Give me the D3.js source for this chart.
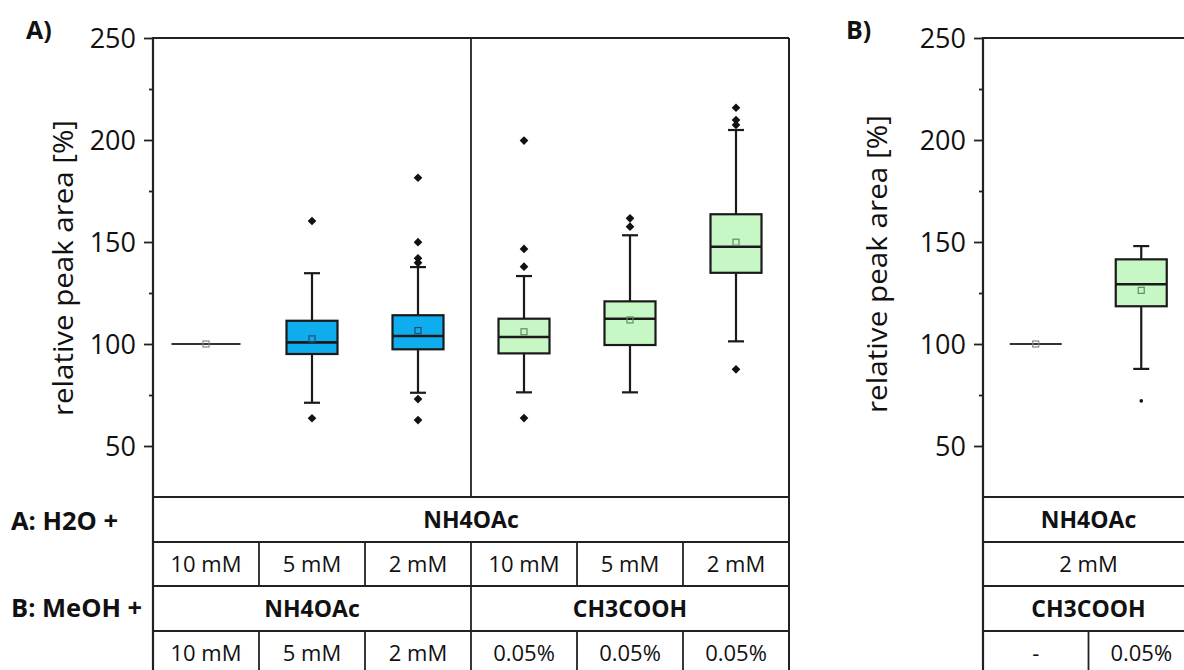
<!DOCTYPE html>
<html><head><meta charset="utf-8">
<script src="https://cdn.jsdelivr.net/npm/d3@7"></script>
<style>
html,body{margin:0;padding:0;background:#fff;}
svg{display:block;font-family:"Open Sans",sans-serif;}
</style></head>
<body><svg id="c" width="1184" height="670"></svg>
<script>
// ---------- data ----------
const catsA = ["A1","A2","A3","A4","A5","A6"];
const q1A   = [100, 95.1, 97.4, 95.4, 99.5, 134.9];
const medA  = [100, 100.8, 103.9, 103.4, 112.4, 147.7];
const q3A   = [100, 111.4, 114.1, 112.4, 120.9, 163.6];
const wloA  = [100, 71.2, 76.1, 76.3, 76.3, 101.3];
const whiA  = [100, 134.7, 137.7, 133.3, 153.3, 204.9];
const meanA = [100, 102.5, 106.6, 106.0, 111.8, 149.9];
const outA  = [[], [160.3, 63.6], [181.5, 149.9, 142.0, 139.8, 73.0, 62.7],
               [199.7, 146.6, 137.9, 63.7], [161.6, 157.5], [215.8, 209.8, 207.4, 87.6]];
const fillA = ["none","blue","blue","green","green","green"];

const catsB = ["B1","B2"];
const q1B   = [100, 118.5];
const medB  = [100, 129.3];
const q3B   = [100, 141.5];
const wloB  = [100, 87.8];
const whiB  = [100, 148.0];
const meanB = [100, 126.3];
const outB  = [[], [72.1]];
const fillB = ["none","green"];

const yMajor = [50,100,150,200,250];
const yMinor = [75,125,175,225];

// table rows (label, span in columns)
const tA_row1 = [["NH4OAc",6]];
const tA_row2 = [["10 mM",1],["5 mM",1],["2 mM",1],["10 mM",1],["5 mM",1],["2 mM",1]];
const tA_row3 = [["NH4OAc",3],["CH3COOH",3]];
const tA_row4 = [["10 mM",1],["5 mM",1],["2 mM",1],["0.05%",1],["0.05%",1],["0.05%",1]];
const tB_row1 = [["NH4OAc",2]];
const tB_row2 = [["2 mM",2]];
const tB_row3 = [["CH3COOH",2]];
const tB_row4 = [["-",1],["0.05%",1]];
const rowLabels = ["A: H2O +", "B: MeOH +"];

// ---------- drawing ----------
const svg = d3.select("#c");
const colors = {blue:"#0fadee", green:"#c6f7c4"};
const meanStroke = {blue:"#1d4e6e", green:"#5d8f5d", none:"#888"};
const yTop = 38, yBot = 497;
const rowsY = [497, 542, 586, 631, 676];
const y = d3.scaleLinear().domain([25,250]).range([yBot, yTop]);

function panel(o){
  const g = svg.append("g");
  const x = d3.scaleBand().domain(o.cats).range([o.x0, o.x1]).padding(0);
  const bw = x.bandwidth();
  g.append("line").attr("x1",o.x0).attr("x2",o.frameRight).attr("y1",yTop).attr("y2",yTop)
    .attr("stroke","#222").attr("stroke-width",1.8);
  if(o.rightFrame){
    g.append("line").attr("x1",o.x1).attr("x2",o.x1).attr("y1",yTop).attr("y2",rowsY[4])
      .attr("stroke","#222").attr("stroke-width",2);
  }
  if(o.divider){
    const xd = x(o.cats[o.divider]);
    g.append("line").attr("x1",xd).attr("x2",xd).attr("y1",yTop).attr("y2",yBot)
      .attr("stroke","#222").attr("stroke-width",1.8);
  }
  const ax = g.append("g").attr("transform",`translate(${o.x0},0)`)
    .call(d3.axisLeft(y).tickValues(yMajor).tickSize(9).tickPadding(8).tickFormat(d3.format("d")));
  ax.select(".domain").remove();
  ax.selectAll(".tick line").attr("stroke","#222").attr("stroke-width",1.8);
  ax.selectAll(".tick text").attr("font-size",27).attr("fill","#111")
    .attr("font-family","'Open Sans',sans-serif").attr("dy","0.36em");
  const axm = g.append("g").attr("transform",`translate(${o.x0},0)`)
    .call(d3.axisLeft(y).tickValues(yMinor).tickSize(4).tickFormat(""));
  axm.select(".domain").remove();
  axm.selectAll(".tick line").attr("stroke","#222").attr("stroke-width",1.8);
  g.append("line").attr("x1",o.x0).attr("x2",o.x0).attr("y1",yTop-1).attr("y2",rowsY[4])
    .attr("stroke","#222").attr("stroke-width",2.2);
  g.append("text").attr("transform",`translate(${o.titleX},${o.titleY}) rotate(-90)`)
    .attr("text-anchor","middle").attr("font-size",28).attr("fill","#111")
    .attr("textLength",o.titleLen).attr("lengthAdjust","spacingAndGlyphs")
    .text("relative peak area [%]");
  g.append("text").attr("x",o.tagX).attr("y",o.tagY).attr("font-size",25).attr("font-weight",700)
    .attr("fill","#111").text(o.tag);

  o.cats.forEach((c,i)=>{
    const cx = x(c) + bw/2;
    const boxW = 51, capW = 16;
    if(o.q1[i] === o.q3[i]){
      g.append("line").attr("x1",cx-o.flatW/2).attr("x2",cx+o.flatW/2)
        .attr("y1",y(o.med[i])).attr("y2",y(o.med[i])).attr("stroke","#333").attr("stroke-width",2.2);
    } else {
      g.append("line").attr("x1",cx).attr("x2",cx).attr("y1",y(o.whi[i])).attr("y2",y(o.q3[i]))
        .attr("stroke","#1a1a1a").attr("stroke-width",2.2);
      g.append("line").attr("x1",cx).attr("x2",cx).attr("y1",y(o.q1[i])).attr("y2",y(o.wlo[i]))
        .attr("stroke","#1a1a1a").attr("stroke-width",2.2);
      [o.whi[i], o.wlo[i]].forEach(v=>{
        g.append("line").attr("x1",cx-capW/2).attr("x2",cx+capW/2).attr("y1",y(v)).attr("y2",y(v))
          .attr("stroke","#1a1a1a").attr("stroke-width",2.2);
      });
      g.append("rect").attr("x",cx-boxW/2).attr("y",y(o.q3[i])).attr("width",boxW)
        .attr("height",y(o.q1[i])-y(o.q3[i])).attr("fill",colors[o.fill[i]])
        .attr("stroke","#1a1a1a").attr("stroke-width",2.2);
      g.append("line").attr("x1",cx-boxW/2).attr("x2",cx+boxW/2).attr("y1",y(o.med[i])).attr("y2",y(o.med[i]))
        .attr("stroke","#1a1a1a").attr("stroke-width",2.6);
    }
    g.append("rect").attr("x",cx-3).attr("y",y(o.mean[i])-3).attr("width",6).attr("height",6)
      .attr("fill","none").attr("stroke",meanStroke[o.fill[i]]).attr("stroke-width",1.2);
    o.out[i].forEach(v=>{
      if(o.dotOut){
        g.append("circle").attr("cx",cx).attr("cy",y(v)).attr("r",1.8).attr("fill","#111");
      } else {
        g.append("path").attr("transform",`translate(${cx},${y(v)})`)
          .attr("d",d3.symbol(d3.symbolDiamond2, 48)()).attr("fill","#111");
      }
    });
  });

  const rows = [o.r1,o.r2,o.r3,o.r4];
  const bolds = [true,false,true,false];
  for(let r=0;r<=4;r++){
    g.append("line").attr("x1",o.x0).attr("x2",o.frameRight).attr("y1",rowsY[r]).attr("y2",rowsY[r])
      .attr("stroke","#222").attr("stroke-width",1.8);
  }
  rows.forEach((row,r)=>{
    let ci = 0;
    row.forEach(([lab,span],k)=>{
      const xs = x(o.cats[ci]);
      const xe = (ci+span < o.cats.length) ? x(o.cats[ci+span]) : o.x1;
      if(k>0){
        g.append("line").attr("x1",xs).attr("x2",xs).attr("y1",rowsY[r]).attr("y2",rowsY[r+1])
          .attr("stroke","#222").attr("stroke-width",1.8);
      }
      g.append("text").attr("x",(xs+xe)/2).attr("y",(rowsY[r]+rowsY[r+1])/2).attr("dy","0.36em")
        .attr("text-anchor","middle").attr("font-size",bolds[r]?23:22)
        .attr("font-weight",bolds[r]?700:400).attr("fill","#111").text(lab);
      ci += span;
    });
  });
}

panel({cats:catsA,x0:153,x1:789,frameRight:789,rightFrame:true,divider:3,
  q1:q1A,med:medA,q3:q3A,wlo:wloA,whi:whiA,mean:meanA,out:outA,fill:fillA,flatW:69,dotOut:false,
  titleX:73,titleY:268,titleLen:296,tag:"A)",tagX:26,tagY:39,
  r1:tA_row1,r2:tA_row2,r3:tA_row3,r4:tA_row4});
panel({cats:catsB,x0:983,x1:1194,frameRight:1194,rightFrame:false,divider:0,
  q1:q1B,med:medB,q3:q3B,wlo:wloB,whi:whiB,mean:meanB,out:outB,fill:fillB,flatW:52,dotOut:true,
  titleX:887,titleY:264,titleLen:298,tag:"B)",tagX:846,tagY:39,
  r1:tB_row1,r2:tB_row2,r3:tB_row3,r4:tB_row4});

svg.append("text").attr("x",11).attr("y",530).attr("font-size",25.5).attr("font-weight",700)
  .attr("fill","#111").text(rowLabels[0]);
svg.append("text").attr("x",11).attr("y",617).attr("font-size",25.5).attr("font-weight",700)
  .attr("fill","#111").text(rowLabels[1]);
</script></body></html>
